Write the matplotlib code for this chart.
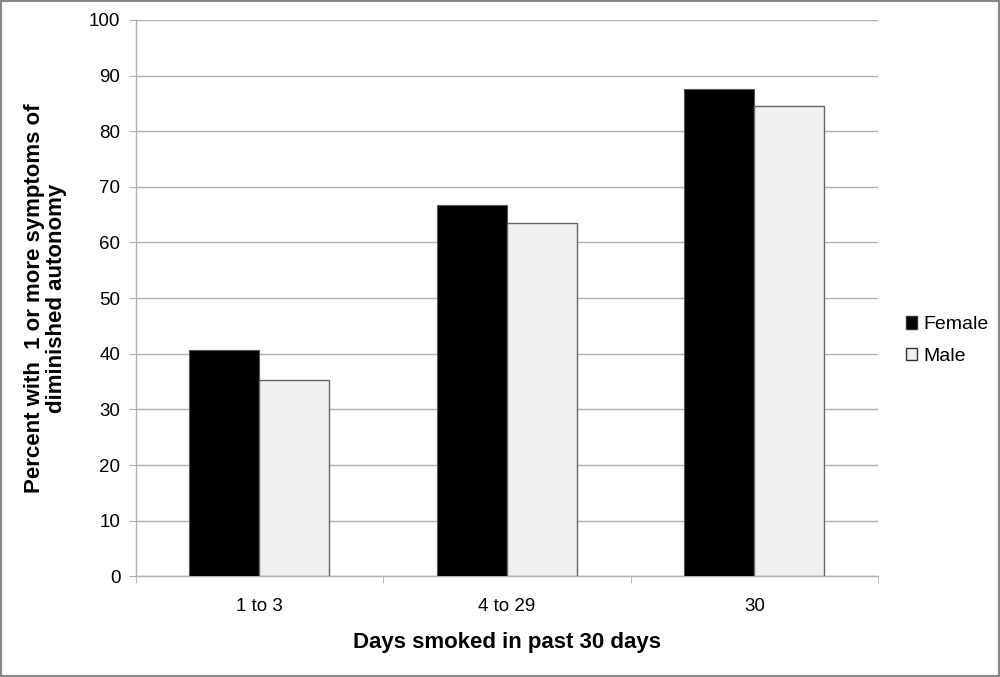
import matplotlib
matplotlib.use('Agg')
import matplotlib.pyplot as plt
from matplotlib.patches import Patch
import numpy as np

plt.rcParams['font.family'] = ['Liberation Sans', 'DejaVu Sans']

categories = ['1 to 3', '4 to 29', '30']
female = [40.7, 66.7, 87.6]
male = [35.3, 63.5, 84.5]

fig = plt.figure(figsize=(10, 6.77), dpi=100)
ax = fig.add_axes([0.1357, 0.1488, 0.7423, 0.8217])

x = np.arange(len(categories))
w = 0.283
ax.bar(x - w / 2, female, w, color='black', edgecolor='#555555', linewidth=0.8, zorder=3)
ax.bar(x + w / 2, male, w, color='#f0f0f0', edgecolor='#666666', linewidth=1.0, zorder=3)

ax.set_xlim(-0.5, 2.5)
ax.set_ylim(0, 100)
ax.set_yticks(range(0, 101, 10))
ax.yaxis.grid(True, color='#b0b0b0', linewidth=1.0, zorder=0)
ax.set_xticks(x)
ax.set_xticklabels(categories, fontsize=13.5)
ax.set_xticks([-0.5, 0.5, 1.5, 2.5], minor=True)
ax.tick_params(axis='x', which='major', length=0, pad=16)
ax.tick_params(axis='x', which='minor', length=5, color='#b0b0b0')
ax.tick_params(axis='y', length=5, color='#b0b0b0', labelsize=13.5, pad=6)

for s in ['top', 'right']:
    ax.spines[s].set_visible(False)
for s in ['left', 'bottom']:
    ax.spines[s].set_color('#b0b0b0')
    ax.spines[s].set_linewidth(1.0)

ax.set_xlabel('Days smoked in past 30 days', fontsize=16, fontweight='bold', labelpad=12)
ax.set_ylabel('Percent with  1 or more symptoms of\ndiminished autonomy', fontsize=16,
              fontweight='bold', labelpad=16, linespacing=1.05)

handles = [Patch(facecolor='black', edgecolor='#333333'),
           Patch(facecolor='#f0f0f0', edgecolor='#333333')]
fig.legend(handles, ['Female', 'Male'], loc='center left', bbox_to_anchor=(0.888, 0.497),
           frameon=False, fontsize=14, handlelength=0.6, handleheight=0.6,
           handletextpad=0.3, labelspacing=0.75)

# outer border
fig.patches.append(plt.Rectangle((0.001, 0.001), 0.998, 0.998, transform=fig.transFigure,
                                 fill=False, edgecolor='#888888', linewidth=1.5))

fig.savefig('out.png', dpi=100)
